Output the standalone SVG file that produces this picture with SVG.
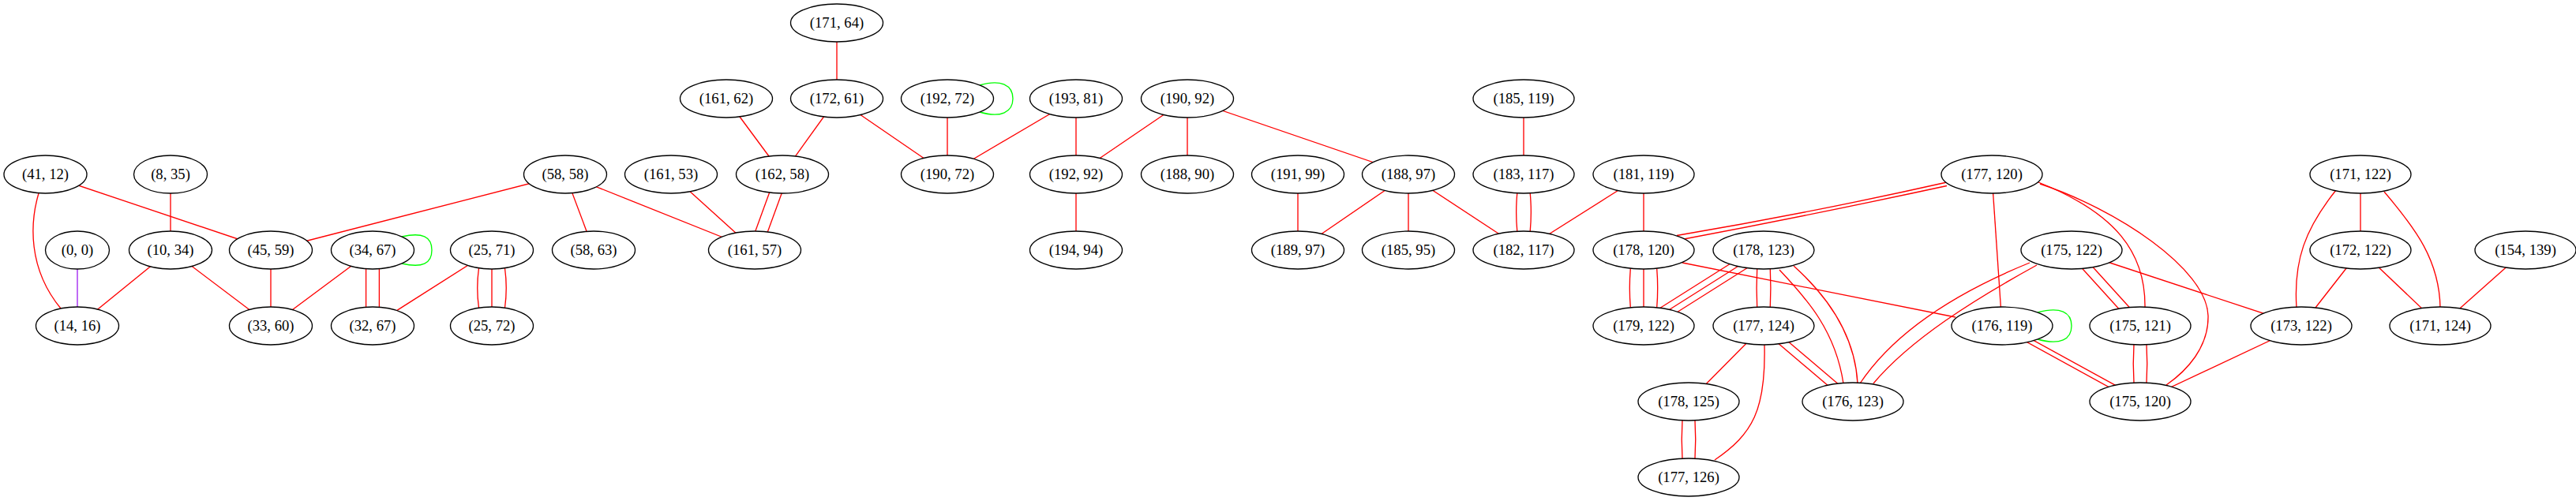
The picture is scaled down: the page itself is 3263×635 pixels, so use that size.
<svg xmlns="http://www.w3.org/2000/svg" width="3263" height="635" viewBox="0 0 3263 635">
<style>
.n ellipse{fill:#ffffff;stroke:#000000;stroke-width:1.33}
.n text{font-family:"Liberation Serif","Times New Roman",serif;font-size:18.67px;text-anchor:middle;fill:#000000}
#edges path,#edges line{fill:none;stroke:#ff0000;stroke-width:1.33}
#edges .g{stroke:#00ff00}
#edges .p{stroke:#a020f0}
</style>
<rect x="0" y="0" width="3263" height="635" fill="#ffffff"/>
<g id="edges">
<!-- left cluster -->
<line x1="57.5" y1="221" x2="343" y2="317"/>
<path d="M49,245 C38,282 35,340 77,391"/>
<line x1="216" y1="221" x2="216" y2="317"/>
<line class="p" x1="98" y1="317" x2="98" y2="413"/>
<line x1="216" y1="317" x2="98" y2="413"/>
<line x1="216" y1="317" x2="343" y2="413"/>
<line x1="343" y1="317" x2="343" y2="413"/>
<line x1="716" y1="221" x2="343" y2="317"/>
<line x1="472" y1="317" x2="343" y2="413"/>
<path class="g" d="M509,300 C535,294 547,300 547,317 C547,334 535,340 509,334"/>
<line x1="463.6" y1="317" x2="463.6" y2="413"/>
<line x1="480.4" y1="317" x2="480.4" y2="413"/>
<line x1="623" y1="317" x2="472" y2="413"/>
<path d="M606.5,340 Q603,365 606.5,390"/>
<line x1="623" y1="317" x2="623" y2="413"/>
<path d="M639.5,340 Q643,365 639.5,390"/>
<line x1="716" y1="221" x2="752" y2="317"/>
<line x1="716" y1="221" x2="956" y2="317"/>
<line x1="850" y1="221" x2="956" y2="317"/>
<line x1="998" y1="223.6" x2="963" y2="319.6"/>
<line x1="984" y1="218.4" x2="949" y2="314.4"/>
<line x1="920" y1="125" x2="991" y2="221"/>
<line x1="1060" y1="125" x2="991" y2="221"/>
<line x1="1060" y1="29" x2="1060" y2="125"/>
<line x1="1060" y1="125" x2="1200" y2="221"/>
<line x1="1200" y1="125" x2="1200" y2="221"/>
<path class="g" d="M1241,108 C1268,100 1283,108 1283,125 C1283,142 1268,150 1241,142"/>
<line x1="1363" y1="125" x2="1200" y2="221"/>
<line x1="1363" y1="125" x2="1363" y2="221"/>
<line x1="1504" y1="125" x2="1363" y2="221"/>
<line x1="1504" y1="125" x2="1504" y2="221"/>
<line x1="1504" y1="125" x2="1784" y2="221"/>
<line x1="1363" y1="221" x2="1363" y2="317"/>
<line x1="1644" y1="221" x2="1644" y2="317"/>
<line x1="1784" y1="221" x2="1644" y2="317"/>
<line x1="1784" y1="221" x2="1784" y2="317"/>
<line x1="1784" y1="221" x2="1930" y2="317"/>
<line x1="1930" y1="125" x2="1930" y2="221"/>
<path d="M1921.8,244.8 Q1919.5,269 1921.8,293.2"/>
<path d="M1938.2,244.8 Q1940.5,269 1938.2,293.2"/>
<line x1="2082" y1="221" x2="1930" y2="317"/>
<line x1="2082" y1="221" x2="2082" y2="317"/>
<!-- right cluster -->
<path d="M2466,231 Q2295,269.5 2124,298.5"/>
<path d="M2466,235.5 Q2295,272.5 2133,303"/>
<path d="M2065.3,340.2 Q2063.3,365 2065.3,389.8"/>
<line x1="2082" y1="317" x2="2082" y2="413"/>
<path d="M2098.7,340.2 Q2100.7,365 2098.7,389.8"/>
<line x1="2234" y1="317" x2="2082" y2="413"/>
<line x1="2238.3" y1="323.8" x2="2086.3" y2="419.8"/>
<line x1="2229.7" y1="310.2" x2="2077.7" y2="406.2"/>
<path d="M2131,333 L2477,402"/>
<path d="M2225.7,340.8 Q2224.5,365 2225.7,389.2"/>
<path d="M2242.3,340.8 Q2243.5,365 2242.3,389.2"/>
<path d="M2254,342 C2290,380 2325,420 2335,486"/>
<path d="M2272,337 C2320,380 2350,430 2353,486"/>
<line x1="2230.8" y1="416.8" x2="2343.8" y2="512.8"/>
<line x1="2237.2" y1="409.2" x2="2350.2" y2="505.2"/>
<line x1="2234" y1="413" x2="2139" y2="509"/>
<path d="M2235,437 C2237,520 2220,550 2172,583"/>
<path d="M2131,532.8 Q2129.5,557 2131,581.2"/>
<path d="M2147,532.8 Q2148.5,557 2147,581.2"/>
<path d="M2571,333 C2480,370 2400,420 2356,486"/>
<path d="M2580,336 C2500,380 2420,430 2373,486"/>
<line x1="2523" y1="221" x2="2536" y2="413"/>
<path d="M2582,231 C2680,270 2718,320 2717,390"/>
<path d="M2584,233 C2680,265 2795,340 2797,400 C2798,440 2770,470 2744,488"/>
<line x1="2619.85" y1="320.76" x2="2706.85" y2="416.76"/>
<line x1="2628.15" y1="313.24" x2="2715.15" y2="409.24"/>
<line x1="2624" y1="317" x2="2915" y2="413"/>
<path class="g" d="M2581,396 C2610,388 2624,396 2624,413 C2624,430 2610,438 2581,430"/>
<line x1="2534.56" y1="415.63" x2="2709.56" y2="511.63"/>
<line x1="2537.44" y1="410.37" x2="2712.44" y2="506.37"/>
<path d="M2703,436.8 Q2701.5,461 2703,485.2"/>
<path d="M2719,436.8 Q2720.5,461 2719,485.2"/>
<line x1="2915" y1="413" x2="2711" y2="509"/>
<path d="M2959,241 C2920,290 2905,330 2909,390"/>
<line x1="2990" y1="221" x2="2990" y2="317"/>
<path d="M3020,243 C3060,290 3090,330 3091,390"/>
<line x1="2990" y1="317" x2="2915" y2="413"/>
<line x1="2990" y1="317" x2="3091" y2="413"/>
<line x1="3199" y1="317" x2="3091" y2="413"/>
</g>
<g id="n171_64" class="n"><ellipse cx="1060" cy="29" rx="58.5" ry="24"/><text x="1060" y="35">(171, 64)</text></g>
<g id="n161_62" class="n"><ellipse cx="920" cy="125" rx="58.5" ry="24"/><text x="920" y="131">(161, 62)</text></g>
<g id="n172_61" class="n"><ellipse cx="1060" cy="125" rx="58.5" ry="24"/><text x="1060" y="131">(172, 61)</text></g>
<g id="n192_72" class="n"><ellipse cx="1200" cy="125" rx="58.5" ry="24"/><text x="1200" y="131">(192, 72)</text></g>
<g id="n193_81" class="n"><ellipse cx="1363" cy="125" rx="58.5" ry="24"/><text x="1363" y="131">(193, 81)</text></g>
<g id="n190_92" class="n"><ellipse cx="1504" cy="125" rx="58.5" ry="24"/><text x="1504" y="131">(190, 92)</text></g>
<g id="n185_119" class="n"><ellipse cx="1930" cy="125" rx="64" ry="24"/><text x="1930" y="131">(185, 119)</text></g>
<g id="n41_12" class="n"><ellipse cx="57.5" cy="221" rx="52.5" ry="24"/><text x="57.5" y="227">(41, 12)</text></g>
<g id="n8_35" class="n"><ellipse cx="216" cy="221" rx="46.5" ry="24"/><text x="216" y="227">(8, 35)</text></g>
<g id="n58_58" class="n"><ellipse cx="716" cy="221" rx="52.5" ry="24"/><text x="716" y="227">(58, 58)</text></g>
<g id="n161_53" class="n"><ellipse cx="850" cy="221" rx="58.5" ry="24"/><text x="850" y="227">(161, 53)</text></g>
<g id="n162_58" class="n"><ellipse cx="991" cy="221" rx="58.5" ry="24"/><text x="991" y="227">(162, 58)</text></g>
<g id="n190_72" class="n"><ellipse cx="1200" cy="221" rx="58.5" ry="24"/><text x="1200" y="227">(190, 72)</text></g>
<g id="n192_92" class="n"><ellipse cx="1363" cy="221" rx="58.5" ry="24"/><text x="1363" y="227">(192, 92)</text></g>
<g id="n188_90" class="n"><ellipse cx="1504" cy="221" rx="58.5" ry="24"/><text x="1504" y="227">(188, 90)</text></g>
<g id="n191_99" class="n"><ellipse cx="1644" cy="221" rx="58.5" ry="24"/><text x="1644" y="227">(191, 99)</text></g>
<g id="n188_97" class="n"><ellipse cx="1784" cy="221" rx="58.5" ry="24"/><text x="1784" y="227">(188, 97)</text></g>
<g id="n183_117" class="n"><ellipse cx="1930" cy="221" rx="64" ry="24"/><text x="1930" y="227">(183, 117)</text></g>
<g id="n181_119" class="n"><ellipse cx="2082" cy="221" rx="64" ry="24"/><text x="2082" y="227">(181, 119)</text></g>
<g id="n177_120" class="n"><ellipse cx="2523" cy="221" rx="64" ry="24"/><text x="2523" y="227">(177, 120)</text></g>
<g id="n171_122" class="n"><ellipse cx="2990" cy="221" rx="64" ry="24"/><text x="2990" y="227">(171, 122)</text></g>
<g id="n0_0" class="n"><ellipse cx="98" cy="317" rx="40.5" ry="24"/><text x="98" y="323">(0, 0)</text></g>
<g id="n10_34" class="n"><ellipse cx="216" cy="317" rx="52.5" ry="24"/><text x="216" y="323">(10, 34)</text></g>
<g id="n45_59" class="n"><ellipse cx="343" cy="317" rx="52.5" ry="24"/><text x="343" y="323">(45, 59)</text></g>
<g id="n34_67" class="n"><ellipse cx="472" cy="317" rx="52.5" ry="24"/><text x="472" y="323">(34, 67)</text></g>
<g id="n25_71" class="n"><ellipse cx="623" cy="317" rx="52.5" ry="24"/><text x="623" y="323">(25, 71)</text></g>
<g id="n58_63" class="n"><ellipse cx="752" cy="317" rx="52.5" ry="24"/><text x="752" y="323">(58, 63)</text></g>
<g id="n161_57" class="n"><ellipse cx="956" cy="317" rx="58.5" ry="24"/><text x="956" y="323">(161, 57)</text></g>
<g id="n194_94" class="n"><ellipse cx="1363" cy="317" rx="58.5" ry="24"/><text x="1363" y="323">(194, 94)</text></g>
<g id="n189_97" class="n"><ellipse cx="1644" cy="317" rx="58.5" ry="24"/><text x="1644" y="323">(189, 97)</text></g>
<g id="n185_95" class="n"><ellipse cx="1784" cy="317" rx="58.5" ry="24"/><text x="1784" y="323">(185, 95)</text></g>
<g id="n182_117" class="n"><ellipse cx="1930" cy="317" rx="64" ry="24"/><text x="1930" y="323">(182, 117)</text></g>
<g id="n178_120" class="n"><ellipse cx="2082" cy="317" rx="64" ry="24"/><text x="2082" y="323">(178, 120)</text></g>
<g id="n178_123" class="n"><ellipse cx="2234" cy="317" rx="64" ry="24"/><text x="2234" y="323">(178, 123)</text></g>
<g id="n175_122" class="n"><ellipse cx="2624" cy="317" rx="64" ry="24"/><text x="2624" y="323">(175, 122)</text></g>
<g id="n172_122" class="n"><ellipse cx="2990" cy="317" rx="64" ry="24"/><text x="2990" y="323">(172, 122)</text></g>
<g id="n154_139" class="n"><ellipse cx="3199" cy="317" rx="64" ry="24"/><text x="3199" y="323">(154, 139)</text></g>
<g id="n14_16" class="n"><ellipse cx="98" cy="413" rx="52.5" ry="24"/><text x="98" y="419">(14, 16)</text></g>
<g id="n33_60" class="n"><ellipse cx="343" cy="413" rx="52.5" ry="24"/><text x="343" y="419">(33, 60)</text></g>
<g id="n32_67" class="n"><ellipse cx="472" cy="413" rx="52.5" ry="24"/><text x="472" y="419">(32, 67)</text></g>
<g id="n25_72" class="n"><ellipse cx="623" cy="413" rx="52.5" ry="24"/><text x="623" y="419">(25, 72)</text></g>
<g id="n179_122" class="n"><ellipse cx="2082" cy="413" rx="64" ry="24"/><text x="2082" y="419">(179, 122)</text></g>
<g id="n177_124" class="n"><ellipse cx="2234" cy="413" rx="64" ry="24"/><text x="2234" y="419">(177, 124)</text></g>
<g id="n176_119" class="n"><ellipse cx="2536" cy="413" rx="64" ry="24"/><text x="2536" y="419">(176, 119)</text></g>
<g id="n175_121" class="n"><ellipse cx="2711" cy="413" rx="64" ry="24"/><text x="2711" y="419">(175, 121)</text></g>
<g id="n173_122" class="n"><ellipse cx="2915" cy="413" rx="64" ry="24"/><text x="2915" y="419">(173, 122)</text></g>
<g id="n171_124" class="n"><ellipse cx="3091" cy="413" rx="64" ry="24"/><text x="3091" y="419">(171, 124)</text></g>
<g id="n178_125" class="n"><ellipse cx="2139" cy="509" rx="64" ry="24"/><text x="2139" y="515">(178, 125)</text></g>
<g id="n176_123" class="n"><ellipse cx="2347" cy="509" rx="64" ry="24"/><text x="2347" y="515">(176, 123)</text></g>
<g id="n175_120" class="n"><ellipse cx="2711" cy="509" rx="64" ry="24"/><text x="2711" y="515">(175, 120)</text></g>
<g id="n177_126" class="n"><ellipse cx="2139" cy="605" rx="64" ry="24"/><text x="2139" y="611">(177, 126)</text></g>
</svg>
